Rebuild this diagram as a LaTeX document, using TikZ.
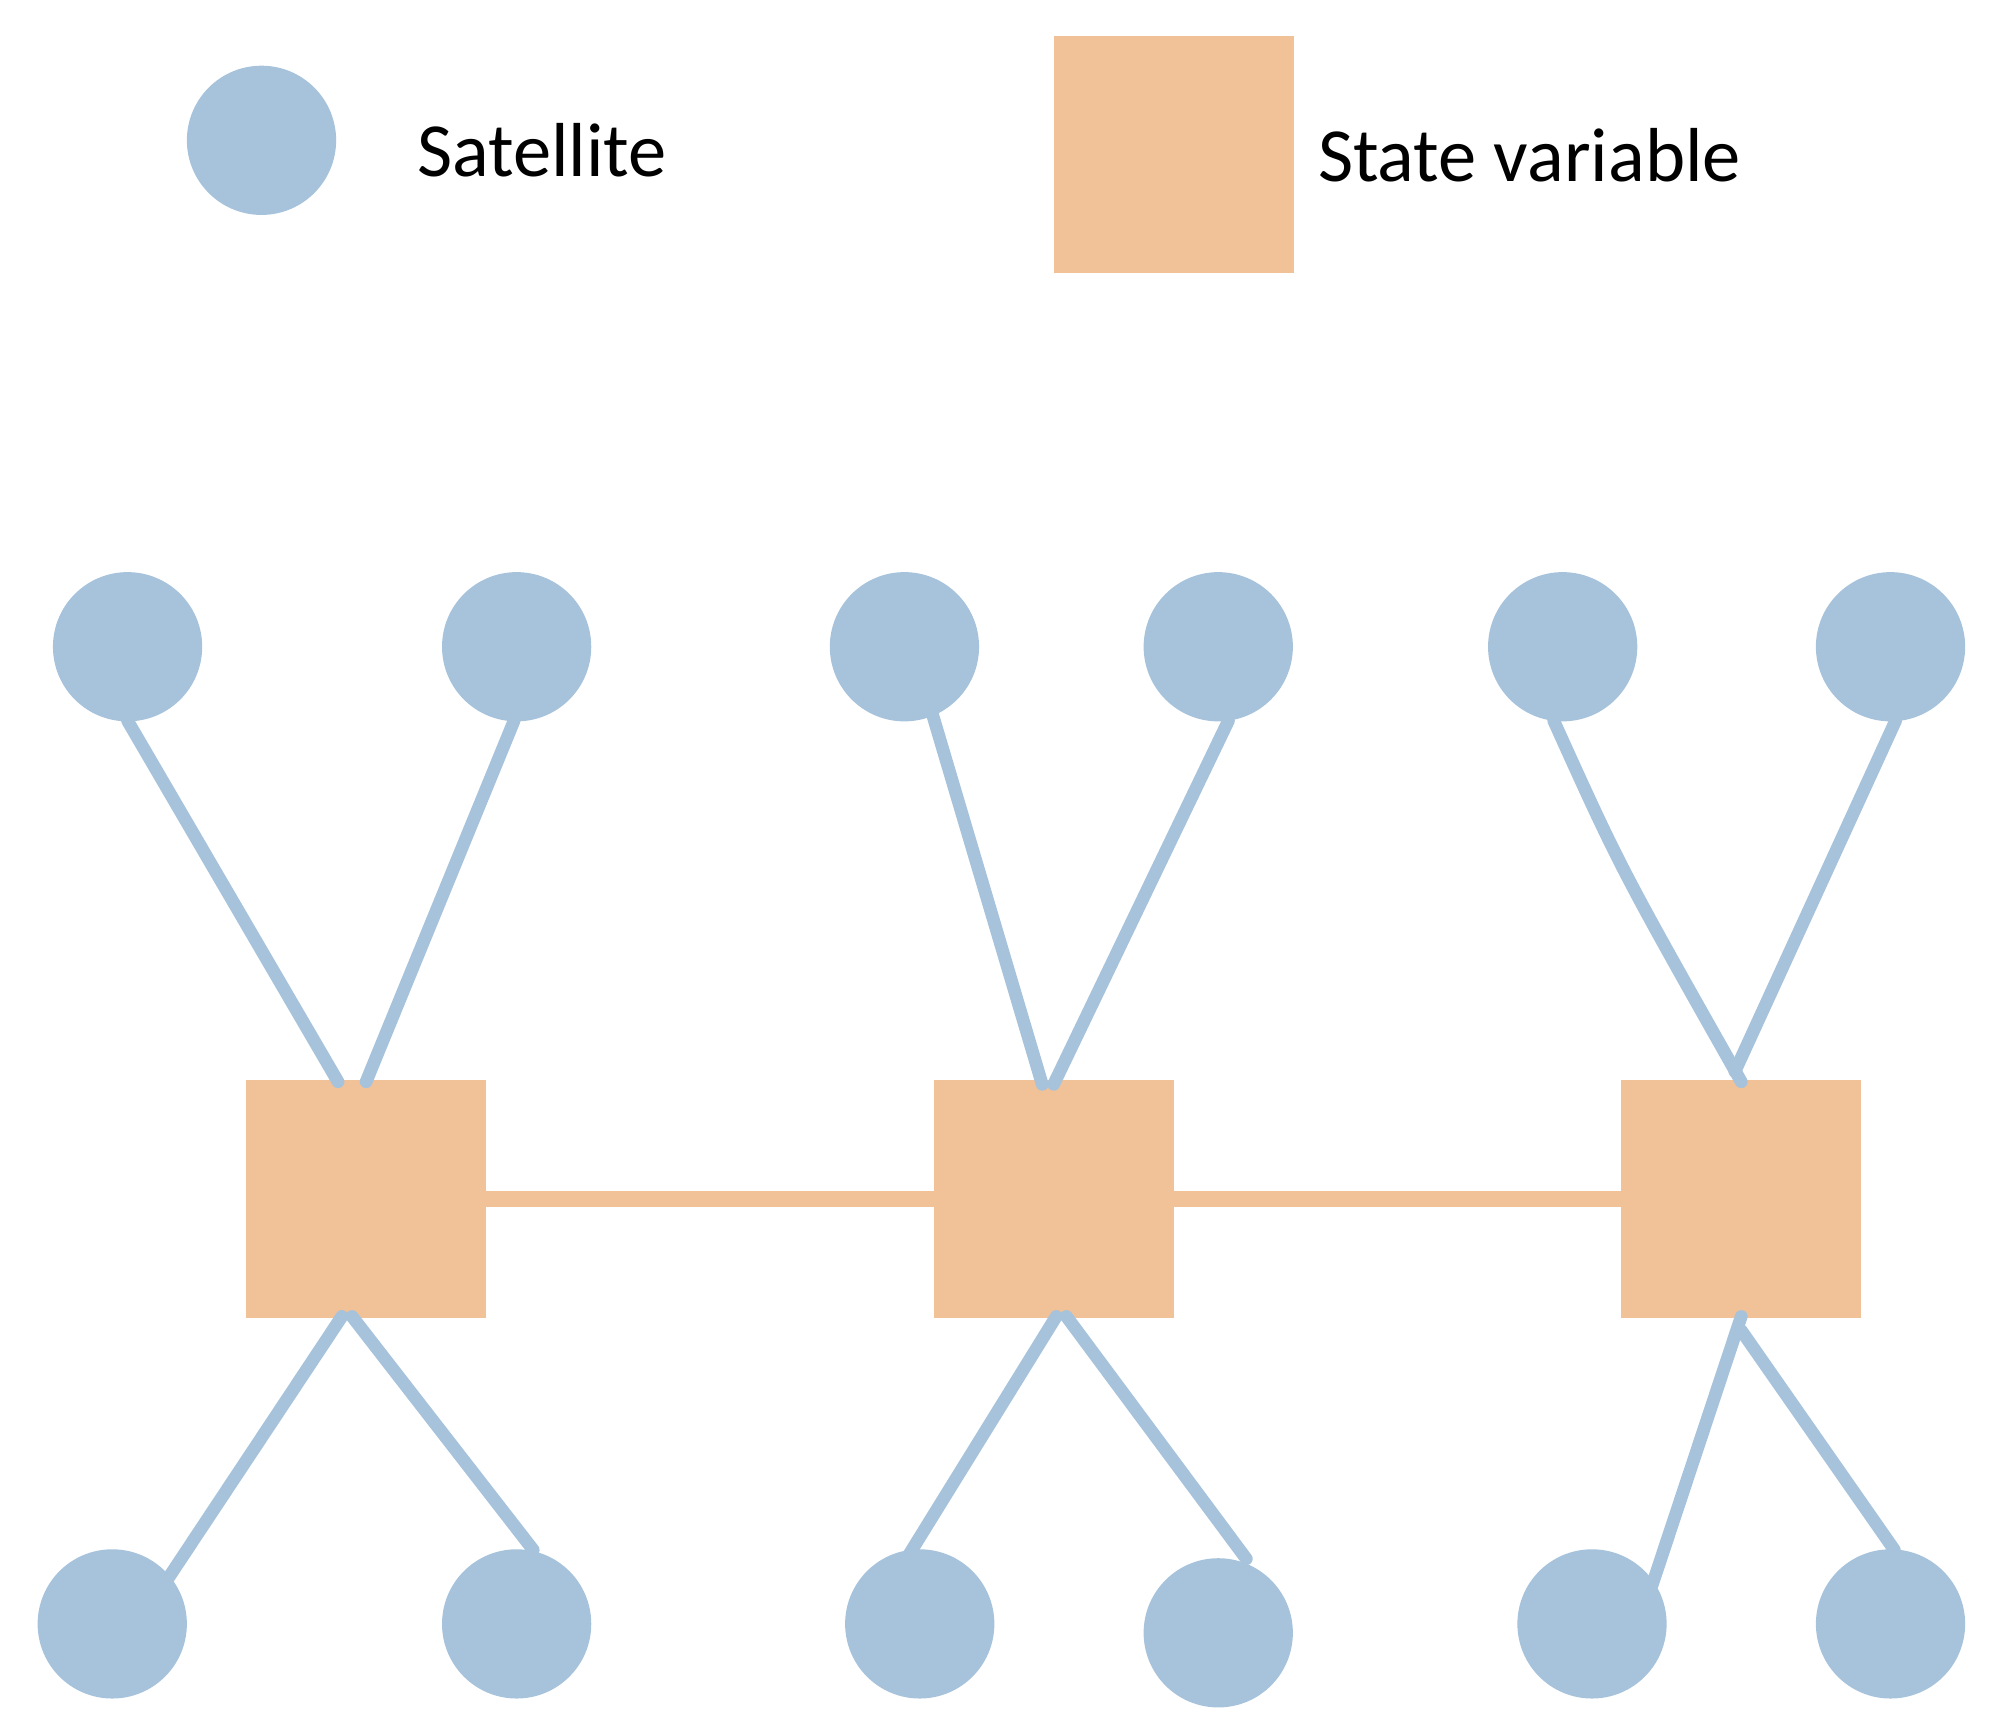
\documentclass[tikz,border=0pt]{standalone}
\usepackage{fontspec}
\setmainfont{Carlito}
\definecolor{sat}{HTML}{A7C3DC}
\definecolor{sv}{HTML}{F1C198}
\begin{document}
\begin{tikzpicture}[x=1pt,y=-1pt,
  satn/.style={circle,fill=sat,minimum size=117pt,inner sep=0pt},
  svn/.style={rectangle,fill=sv,minimum width=188pt,minimum height=186pt,inner sep=0pt},
  link/.style={draw=sat,line width=10pt,line cap=round},
  hlink/.style={draw=sv,line width=12pt},
  lbl/.style={font=\fontsize{60}{70}\selectfont,anchor=west,inner sep=0pt}]
\useasboundingbox (0,0) rectangle (1560,1348);
% legend
\node[satn] (ls) at (205,110) {};
\node[lbl] (lst) at (327,118) {Satellite};
\node[svn] (lv) at (920,121) {};
\node[lbl] (lvt) at (1033,122) {State variable};
% squares
\node[svn] (v1) at (287,940) {};
\node[svn] (v2) at (826,940) {};
\node[svn] (v3) at (1365,940) {};
\draw[hlink] (v1.east) -- (v2.west);
\draw[hlink] (v2.east) -- (v3.west);
% satellites
\foreach \n/\x/\y in {t1/100/507,t2/405/507,t3/709/507,t4/955/507,t5/1225/507,t6/1482/507,
  b1/88/1273,b2/405/1273,b3/721/1273,b4/955/1280,b5/1248/1273,b6/1482/1273}
  \node[satn] (\n) at (\x,\y) {};
% connector endpoints
\coordinate (a1) at (100,565); \coordinate (a2) at (265,848);
\coordinate (a3) at (403,565); \coordinate (a4) at (287,848);
\coordinate (a5) at (731,560); \coordinate (a6) at (817,850);
\coordinate (a7) at (963,565); \coordinate (a8) at (826,850);
\coordinate (a9) at (1218,565); \coordinate (a10) at (1365,848);
\coordinate (a11) at (1486,565); \coordinate (a12) at (1360,840);
\coordinate (c1) at (268,1032); \coordinate (c2) at (130,1240);
\coordinate (c3) at (276,1032); \coordinate (c4) at (418,1215);
\coordinate (c5) at (828,1032); \coordinate (c6) at (713,1218);
\coordinate (c7) at (836,1032); \coordinate (c8) at (977,1222);
\coordinate (c9) at (1365,1032); \coordinate (c10) at (1295,1243);
\coordinate (c11) at (1365,1043); \coordinate (c12) at (1485,1215);
\draw[link] (a1) -- (a2);
\draw[link] (a3) -- (a4);
\draw[link] (a5) -- (a6);
\draw[link] (a7) -- (a8);
\draw[link] (a9) .. controls (1270,680) .. (a10);
\draw[link] (a11) -- (a12);
\draw[link] (c1) -- (c2);
\draw[link] (c3) -- (c4);
\draw[link] (c5) -- (c6);
\draw[link] (c7) -- (c8);
\draw[link] (c9) -- (c10);
\draw[link] (c11) -- (c12);
\end{tikzpicture}
\end{document}
